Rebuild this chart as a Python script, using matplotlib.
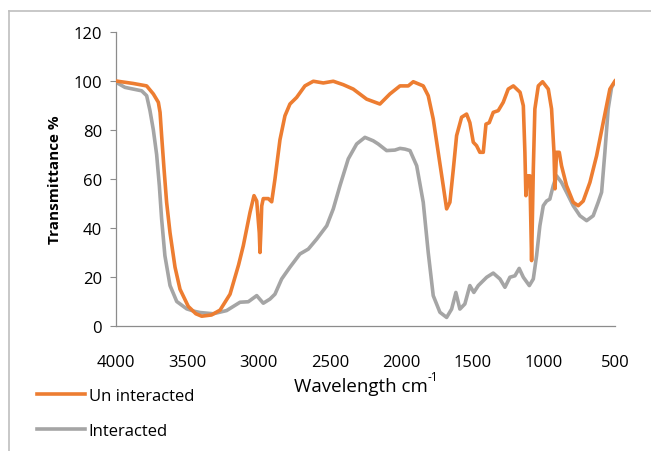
import matplotlib.pyplot as plt
from matplotlib.lines import Line2D

plt.rcParams['font.family'] = ['Open Sans', 'DejaVu Sans']

wn_un = [4000, 3880, 3785, 3738, 3703, 3691, 3680, 3663, 3645, 3621, 3586, 3551, 3493, 3440,
         3399, 3330, 3270, 3200, 3140, 3107, 3060, 3032, 3013, 2995, 2990, 2983, 2978, 2967,
         2932, 2908, 2885, 2850, 2815, 2780, 2733, 2675, 2616, 2546, 2476, 2406, 2336, 2242,
         2149, 2079, 2008, 1950, 1915, 1845, 1810, 1775, 1740, 1705, 1681, 1658, 1634, 1611,
         1576, 1541, 1518, 1494, 1471, 1448, 1424, 1405, 1382, 1354, 1319, 1284, 1249, 1213,
         1166, 1143, 1132, 1125, 1115, 1097, 1085, 1073, 1062, 1038, 1008, 968, 945, 928,
         921, 910, 891, 875, 840, 793, 758, 723, 676, 629, 583, 536, 500]
t_un = [100, 99, 98, 94.7, 91.3, 87.2, 77.7, 64, 50.5, 38, 24, 15, 8, 5,
        4, 4.5, 6.5, 13, 25, 32.8, 46.4, 53.2, 51, 38, 30, 40, 49, 52,
        52, 50.7, 60, 76, 85.8, 90.6, 93.3, 98, 99.9, 99.2, 99.9, 98.5, 96.7, 92.6,
        90.6, 94.7, 98, 98, 99.7, 98, 94, 84.5, 70.9, 57.3, 47.8, 50.5, 64, 77.7,
        85.2, 86.5, 83, 75, 73.6, 70.9, 70.9, 82.4, 83, 87.2, 87.9, 91.3, 96.7, 98,
        95.4, 89.9, 70.9, 53.2, 61.3, 61.3, 26.7, 64, 88.6, 98, 99.7, 96.7, 88.6, 70.9,
        56, 70.9, 70.9, 65.4, 57.3, 50.5, 49.1, 51, 58.6, 69.5, 83, 96.7, 100]

wn_int = [4000, 3937, 3879, 3820, 3785, 3762, 3738, 3715, 3696, 3680, 3657, 3621, 3574, 3504,
          3450, 3411, 3318, 3224, 3130, 3072, 3013, 2967, 2920, 2885, 2838, 2780, 2710, 2651,
          2592, 2522, 2476, 2429, 2371, 2312, 2254, 2196, 2161, 2102, 2044, 2008, 1973, 1938,
          1891, 1845, 1810, 1775, 1728, 1681, 1646, 1616, 1588, 1553, 1518, 1490, 1459, 1400,
          1354, 1307, 1272, 1237, 1202, 1172, 1143, 1101, 1073, 1050, 1027, 1003, 980, 957,
          933, 910, 875, 840, 793, 746, 699, 653, 618, 594, 571, 548, 524, 500]
t_int = [99.5, 97.4, 96.7, 96, 94, 88, 80, 70, 57.3, 43.7, 28.7, 16.5, 10, 7,
         6, 5.5, 5, 6.3, 9.7, 9.9, 12.4, 9.3, 11, 13, 19.2, 24, 29.4, 31.4,
         35.5, 40.9, 47.8, 57.3, 68.2, 74.3, 77, 75.6, 74.3, 71.6, 71.8, 72.5, 72.2, 71.6,
         65.4, 50.5, 30, 12.4, 5.6, 3.5, 6.9, 13.7, 6.9, 9, 16.5, 13.7, 16.5, 19.9,
         21.6, 19.2, 15.8, 19.9, 20.5, 23.5, 19.9, 16.5, 19.2, 28.7, 40.9, 49.1, 51, 51.8,
         57.3, 61.3, 58.6, 54.6, 49.1, 45, 43, 45, 50.5, 54.6, 70.9, 88.6, 97.4, 99.7]

x_ticks = [4000, 3500, 3000, 2500, 2000, 1500, 1000, 500]
y_ticks = [0, 20, 40, 60, 80, 100, 120]

orange = '#ED7D31'
grey = '#A5A5A5'
axis_col = '#8C8C8C'

fig = plt.figure(figsize=(6.51, 4.52), dpi=100)
ax = fig.add_axes([116/651, 1-327/452, (615-116)/651, (327-33)/452])

ax.plot(wn_int, t_int, color=grey, lw=2.6, solid_joinstyle='round', label='Interacted', zorder=2)
ax.plot(wn_un, t_un, color=orange, lw=2.6, solid_joinstyle='round', label='Un interacted', zorder=3)

ax.set_xlim(4000, 500)
ax.set_ylim(0, 120)
ax.set_xticks(x_ticks)
ax.set_yticks(y_ticks)
ax.tick_params(axis='x', length=0, pad=20, labelsize=12)
ax.tick_params(axis='y', length=4, width=0.8, color=axis_col, pad=6, labelsize=12)

for s in ['top', 'right']:
    ax.spines[s].set_visible(False)
for s in ['left', 'bottom']:
    ax.spines[s].set_color(axis_col)
    ax.spines[s].set_linewidth(0.9)

ax.set_ylabel('Transmittance %', fontsize=11, fontweight='bold', labelpad=8)
xl = ax.set_xlabel('Wavelength cm', fontsize=13.5, labelpad=5)
xl.set_x(0.49)
ax.annotate('-1', xy=(1, 0.66), xycoords=xl, fontsize=8.5, ha='left', va='bottom')

# chart frame (top and left edges visible in the original)
fig.add_artist(Line2D([9/651, 1], [1-12/452, 1-12/452], color='#BFBFBF', lw=1.2))
fig.add_artist(Line2D([9/651, 9/651], [0, 1-12/452], color='#BFBFBF', lw=1.2))

handles, labels = ax.get_legend_handles_labels()
fig.legend(handles[::-1], labels[::-1], loc='upper left', bbox_to_anchor=(22/651, 1-374/452),
           frameon=False, fontsize=12, handlelength=2.9, handletextpad=0.2, labelspacing=1.15)

fig.savefig('out.png', dpi=100)
